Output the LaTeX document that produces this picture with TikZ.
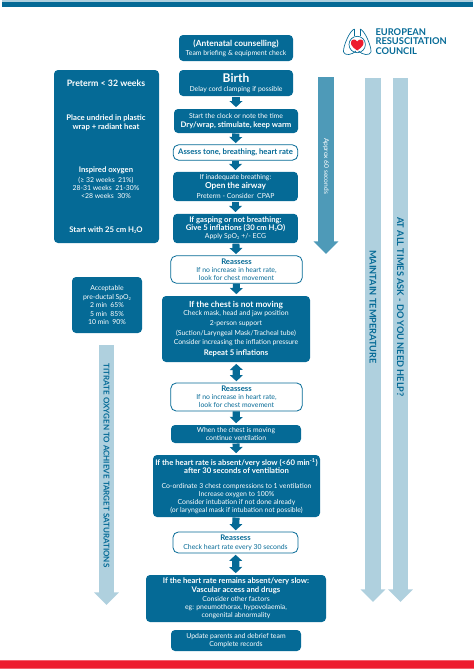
\documentclass[tikz,border=0pt]{standalone}
\usepackage{fontspec}
\setmainfont{Lato}
\usetikzlibrary{arrows.meta}

\definecolor{ercblue}{RGB}{5,106,150}
\definecolor{ercmid}{RGB}{78,154,184}
\definecolor{erclight}{RGB}{175,208,222}
\definecolor{ercred}{RGB}{237,28,46}

\newcommand{\tsm}{\fontsize{5.15}{6}\selectfont}
\newcommand{\tbd}{\fontsize{5.8}{6}\selectfont\bfseries}
\newcommand{\lowtwo}{\raisebox{-0.7pt}{\fontsize{3}{3}\selectfont 2}}

\tikzset{every picture/.style={line width=0.75pt}}
\tikzset{
  solidbox/.style={fill=ercblue,draw=none,rounded corners=3pt,text=white,align=center,inner sep=0pt,font=\tsm},
  openbox/.style={fill=white,draw=ercblue,line width=0.6pt,rounded corners=4pt,text=ercblue,align=center,inner sep=0pt,font=\tsm},
  plainwhite/.style={text=white,inner sep=0pt,align=center,font=\tsm},
  flowarrow/.style={draw=ercblue,line width=5.4pt,shorten >=1pt,-{Triangle[width=9.5pt,length=4.6pt]}},
  twoway/.style={draw=ercblue,line width=5.4pt,shorten >=1pt,shorten <=1pt,{Triangle[width=9.5pt,length=4.6pt]}-{Triangle[width=9.5pt,length=4.6pt]}},
  bigarrow/.style={line width=11.6pt,-{Triangle[width=18pt,length=9.4pt]}},
  sidetext/.style={rotate=-90,text=ercblue,font=\fontsize{6.9}{8}\selectfont\bfseries,inner sep=0pt},
}

\begin{document}
\begin{tikzpicture}[x=0.75pt,y=0.75pt,yscale=-1,xscale=1]
\useasboundingbox (0,0) rectangle (474,669);

%top and bottom bands
\fill [erclight] (2,0) rectangle (473,2);
\fill [ercblue] (2,2) rectangle (473,7);
\fill [ercred!70] (0,660) rectangle (474,669);
\fill [ercred] (0,661) rectangle (474,668);

%logo
\draw [ercblue,line width=0.5pt] (354.5,29) .. controls (350,30) and (343,46) .. (343.5,52) .. controls (345,56) and (352,55) .. (356,51);
\draw [ercblue,line width=0.5pt] (360,29) .. controls (364.5,30) and (371.5,46) .. (371,52) .. controls (369.5,56) and (362.5,55) .. (358.5,51);
\draw [ercblue,line width=0.5pt] (354.5,29) -- (354.5,36) (360,29) -- (360,36);
\draw [ercblue,line width=0.5pt] (357.2,44.5) circle [radius=8.2];
\fill [ercred] (357.2,50.5) .. controls (352,47) and (350.5,44.5) .. (351,42) .. controls (351.5,39) and (355.5,38.5) .. (357.2,41.5) .. controls (359,38.5) and (363,39) .. (363.5,42) .. controls (364,44.5) and (362.5,47) .. (357.2,50.5) -- cycle;
\node (logotext) [anchor=west,text=ercblue,align=left,inner sep=0pt,font=\fontsize{7}{7.3}\selectfont\bfseries] at (375,41.5) {EUROPEAN\\RESUSCITATION\\COUNCIL};

%side arrows
\coordinate (approxa) at (326,77);
\coordinate (approxb) at (326,254);
\coordinate (tempa) at (373,78);
\coordinate (tempb) at (373,602);
\coordinate (helpa) at (400.5,78);
\coordinate (helpb) at (400.5,602);
\coordinate (titra) at (106.5,345);
\coordinate (titrb) at (106.5,605);
\draw [bigarrow,draw=ercmid] (approxa) -- (approxb);
\draw [bigarrow,draw=erclight] (tempa) -- (tempb);
\draw [bigarrow,draw=erclight] (helpa) -- (helpb);
\draw [bigarrow,draw=erclight] (titra) -- (titrb);
\node (approxtext) [sidetext,text=white,font=\fontsize{5}{6}\selectfont] at (326,166) {Approx 60 seconds};
\node (temptext) [sidetext] at (373,307) {MAINTAIN TEMPERATURE};
\node (helptext) [sidetext] at (400.5,307) {AT ALL TIMES ASK - DO YOU NEED HELP?};
\node (titrtext) [sidetext,font=\fontsize{6}{7}\selectfont\bfseries] at (106.5,465.5) {TITRATE OXYGEN TO ACHIEVE TARGET SATURATIONS};

%left boxes
\node (preterm) [solidbox,minimum width=78.75pt,minimum height=129.75pt] at (106.5,156.5) {};
\node (pretermtitle) [plainwhite,font=\fontsize{6.6}{8}\selectfont\bfseries] at (106,83) {Preterm < 32 weeks};
\node (pretermwrap) [plainwhite,font=\tbd] at (106,123) {Place undried in plastic\\[0.6pt]wrap + radiant heat};
\node (pretermoxy) [plainwhite] at (106,182.5) {{\tbd Inspired oxygen}\\[2pt](≥ 32 weeks\enspace 21\%)\\28-31 weeks\enspace 21-30\%\\<28 weeks\enspace 30\%};
\node (pretermstart) [plainwhite,font=\tbd] at (106,230) {Start with 25 cm H\lowtwo O};
\node (spo) [solidbox,minimum width=52.5pt,minimum height=42pt] at (107,305) {Acceptable\\[0.6pt]pre-ductal SpO\lowtwo\\[0.3pt]2 min\enspace 65\%\\[0.3pt]5 min\enspace 85\%\\[0.3pt]10 min\enspace 90\%};

%main column
\node (ante) [solidbox,minimum width=85.5pt,minimum height=19.5pt] at (236,48) {{\tbd\fontsize{6.3}{6}\selectfont (Antenatal counselling)}\\[0.5pt]Team briefing \& equipment check};
\node (birth) [solidbox,minimum width=85.5pt,minimum height=19.5pt] at (236,83) {{\fontsize{9}{9}\selectfont\bfseries Birth}\\[1pt]Delay cord clamping if possible};
\node (clock) [solidbox,minimum width=93pt,minimum height=18pt] at (236,121) {Start the clock or note the time\\[1.2pt]{\tbd Dry/wrap, stimulate, keep warm}};
\node (assess) [openbox,minimum width=93.5pt,minimum height=11.5pt,font=\tbd] at (235.5,152.5) {Assess tone, breathing, heart rate};
\node (airway) [solidbox,minimum width=93.5pt,minimum height=22pt] at (235.5,186.5) {If inadequate breathing:\\[0.8pt]{\tbd\fontsize{6.2}{6}\selectfont Open the airway}\\[1.2pt]Preterm - Consider\enspace CPAP};
\node (gasp) [solidbox,minimum width=93.5pt,minimum height=22pt] at (235.5,228.5) {{\tbd If gasping or not breathing:}\\{\tbd Give 5 inflations (30 cm H\lowtwo O)}\\Apply SpO\lowtwo\ +/- ECG};
\node (reone) [openbox,minimum width=98.5pt,minimum height=20.5pt] at (236.5,269.5) {{\tbd Reassess}\\[0.2pt]If no increase in heart rate,\\look for chest movement};
\node (chest) [solidbox,minimum width=111pt,minimum height=49.5pt] at (236,329) {{\tbd\fontsize{6.3}{6}\selectfont If the chest is not moving}\\Check mask, head and jaw position\\[1.3pt]2-person support\\[1.3pt](Suction/Laryngeal Mask/Tracheal tube)\\[1.3pt]Consider increasing the inflation pressure\\[1.8pt]{\tbd Repeat 5 inflations}};
\node (retwo) [openbox,minimum width=98.5pt,minimum height=21pt] at (236.5,397) {{\tbd Reassess}\\[0.2pt]If no increase in heart rate,\\look for chest movement};
\node (moving) [solidbox,minimum width=97.5pt,minimum height=13.5pt] at (236,434) {When the chest is moving\\continue ventilation};
\node (rate) [solidbox,minimum width=125.25pt,minimum height=46.5pt] at (236.5,486) {{\tbd If the heart rate is absent/very slow (<60 min\textsuperscript{-1})}\\[0.4pt]{\tbd after 30 seconds of ventilation}\\[5pt]Co-ordinate 3 chest compressions to 1 ventilation\\Increase oxygen to 100\%\\Consider intubation if not done already\\(or laryngeal mask if intubation not possible)};
\node (rethree) [openbox,minimum width=93.75pt,minimum height=15.75pt] at (235.5,542.5) {{\tbd Reassess}\\[0.6pt]Check heart rate every 30 seconds};
\node (remains) [solidbox,minimum width=135pt,minimum height=35.25pt] at (236,598.5) {{\tbd If the heart rate remains absent/very slow:}\\[0.4pt]{\tbd Vascular access and drugs}\\[1pt]Consider other factors\\eg: pneumothorax, hypovolaemia,\\congenital abnormality};
\node (update) [solidbox,minimum width=97.5pt,minimum height=15.75pt] at (236,640.5) {Update parents and debrief team\\Complete records};

%connectors
\draw [flowarrow] (birth) -- (clock);
\draw [flowarrow] (clock) -- (assess);
\draw [flowarrow] (assess) -- (airway);
\draw [flowarrow] (airway) -- (gasp);
\draw [flowarrow] (gasp) -- (reone);
\draw [flowarrow] (reone) -- (chest);
\draw [twoway] (chest) -- (retwo);
\draw [flowarrow] (retwo) -- (moving);
\draw [flowarrow] (moving) -- (rate);
\draw [flowarrow] (rate) -- (rethree);
\draw [twoway] (rethree) -- (remains);

\end{tikzpicture}
\end{document}
